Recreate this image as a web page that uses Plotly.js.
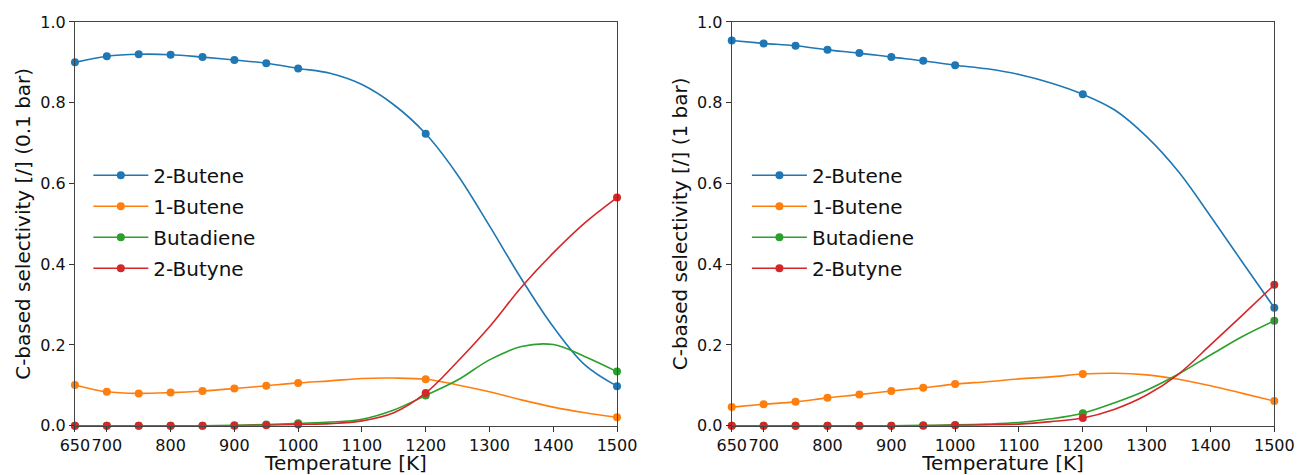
<!DOCTYPE html>
<html>
<head>
<meta charset="utf-8">
<script src="https://cdn.plot.ly/plotly-3.0.1.min.js"></script>
<style>html,body{margin:0;padding:0;background:#fff}#chart{width:1299px;height:475px}</style>
</head>
<body>
<div id="chart"></div>
<script>
// Temperatures [K]
const tempPoints = [650,700,750,800,850,900,950,1000,1200,1500];
const tempCurve  = [650,700,750,800,850,900,950,1000,1050,1100,1150,1200,1250,1300,1350,1400,1450,1500];
const xTickVals  = [650,700,800,900,1000,1100,1200,1300,1400,1500];
const yTickVals  = [0,0.2,0.4,0.6,0.8,1.0];
const seriesNames = ['2-Butene','1-Butene','Butadiene','2-Butyne'];
const seriesColors = ['#1f77b4','#ff7f0e','#2ca02c','#d62728'];

// 0.1 bar — marked points
const butene2_p01_pts   = [0.900,0.915,0.920,0.919,0.913,0.906,0.898,0.885,0.723,0.098];
const butene1_p01_pts   = [0.101,0.084,0.080,0.082,0.086,0.092,0.099,0.106,0.115,0.021];
const butadiene_p01_pts = [0.000,0.000,0.000,0.000,0.000,0.001,0.003,0.006,0.075,0.134];
const butyne2_p01_pts   = [0.000,0.000,0.000,0.000,0.000,0.000,0.001,0.003,0.081,0.565];
// 0.1 bar — smooth curve
const butene2_p01_curve   = [0.900,0.915,0.920,0.919,0.913,0.906,0.898,0.885,0.873,0.845,0.795,0.723,0.621,0.495,0.364,0.245,0.150,0.098];
const butene1_p01_curve   = [0.101,0.084,0.080,0.082,0.086,0.092,0.099,0.106,0.111,0.117,0.118,0.115,0.101,0.084,0.064,0.046,0.032,0.021];
const butadiene_p01_curve = [0.000,0.000,0.000,0.000,0.000,0.001,0.003,0.006,0.009,0.016,0.039,0.075,0.113,0.163,0.196,0.201,0.171,0.134];
const butyne2_p01_curve   = [0.000,0.000,0.000,0.000,0.000,0.000,0.001,0.003,0.005,0.012,0.032,0.081,0.159,0.245,0.343,0.428,0.503,0.565];

// 1 bar — marked points
const butene2_p1_pts   = [0.954,0.947,0.941,0.931,0.923,0.913,0.904,0.893,0.821,0.292];
const butene1_p1_pts   = [0.046,0.053,0.059,0.069,0.077,0.086,0.094,0.103,0.128,0.061];
const butadiene_p1_pts = [0.000,0.000,0.000,0.000,0.000,0.000,0.001,0.002,0.031,0.260];
const butyne2_p1_pts   = [0.000,0.000,0.000,0.000,0.000,0.000,0.000,0.001,0.019,0.349];
// 1 bar — smooth curve
const butene2_p1_curve   = [0.954,0.947,0.941,0.931,0.923,0.913,0.904,0.893,0.884,0.870,0.849,0.821,0.782,0.716,0.629,0.519,0.405,0.292];
const butene1_p1_curve   = [0.046,0.053,0.059,0.069,0.077,0.086,0.094,0.103,0.109,0.116,0.121,0.128,0.130,0.126,0.115,0.099,0.080,0.061];
const butadiene_p1_curve = [0.000,0.000,0.000,0.000,0.000,0.000,0.001,0.002,0.004,0.008,0.017,0.031,0.057,0.088,0.128,0.175,0.221,0.260];
const butyne2_p1_curve   = [0.000,0.000,0.000,0.000,0.000,0.000,0.000,0.001,0.002,0.004,0.010,0.019,0.041,0.076,0.128,0.200,0.274,0.349];

const panels = [
  {xa:'x', ya:'y', legend:'legend',
   pts:[butene2_p01_pts,butene1_p01_pts,butadiene_p01_pts,butyne2_p01_pts],
   curves:[butene2_p01_curve,butene1_p01_curve,butadiene_p01_curve,butyne2_p01_curve]},
  {xa:'x2', ya:'y2', legend:'legend2',
   pts:[butene2_p1_pts,butene1_p1_pts,butadiene_p1_pts,butyne2_p1_pts],
   curves:[butene2_p1_curve,butene1_p1_curve,butadiene_p1_curve,butyne2_p1_curve]}
];

const FONT = 'DejaVu Sans, sans-serif';
const traces = [];
panels.forEach(p => {
  seriesNames.forEach((name, i) => {
    traces.push({x: tempCurve, y: p.curves[i], xaxis: p.xa, yaxis: p.ya, mode: 'lines',
      line: {color: seriesColors[i], width: 1.6, shape: 'spline', smoothing: 1},
      showlegend: false, cliponaxis: false, hoverinfo: 'skip'});
    traces.push({x: tempPoints, y: p.pts[i], xaxis: p.xa, yaxis: p.ya, mode: 'markers',
      marker: {color: seriesColors[i], size: 8}, showlegend: false, cliponaxis: false});
  });
  seriesNames.forEach((name, i) => {
    traces.push({x: [null], y: [null], xaxis: p.xa, yaxis: p.ya, mode: 'lines+markers', name: name,
      legend: p.legend, legendgroup: p.legend + name,
      line: {color: seriesColors[i], width: 1.6}, marker: {color: seriesColors[i], size: 8}});
  });
});

function xAxis(domain, anchor) {
  return {domain: domain, anchor: anchor, range: [650,1500], tickvals: xTickVals,
    tickangle: 0,
    ticks: 'outside', ticklen: 5, tickwidth: 1, tickcolor: '#333',
    showline: true, mirror: true, linecolor: '#444', linewidth: 1,
    showgrid: false, zeroline: false,
    tickfont: {family: FONT, size: 16, color: '#111'},
    title: {text: 'Temperature [K]', font: {family: FONT, size: 20, color: '#111'}, standoff: 5}};
}
function yAxis(domain, anchor, label) {
  return {domain: domain, anchor: anchor, range: [0,1], tickvals: yTickVals, tickformat: '.1f',
    ticks: 'outside', ticklen: 5, tickwidth: 1, tickcolor: '#333',
    showline: true, mirror: true, linecolor: '#444', linewidth: 1,
    showgrid: false, zeroline: false,
    tickfont: {family: FONT, size: 16, color: '#111'},
    title: {text: label, font: {family: FONT, size: 20, color: '#111'}, standoff: 4}};
}
function legendCfg(x) {
  return {x: x, y: 0.672, xanchor: 'left', yanchor: 'top', bgcolor: 'rgba(0,0,0,0)',
    borderwidth: 0, font: {family: FONT, size: 20, color: '#111'},
    traceorder: 'grouped', tracegroupgap: 2, itemwidth: 55};
}

const yDom = [0.1038, 0.9537];
const layout = {
  width: 1299, height: 475,
  margin: {l: 0, r: 0, t: 0, b: 0},
  paper_bgcolor: '#fff', plot_bgcolor: '#fff',
  font: {family: FONT, color: '#111'},
  xaxis: xAxis([0.0577, 0.4750], 'y'),
  yaxis: yAxis(yDom, 'x', 'C-based selectivity [/] (0.1 bar)'),
  xaxis2: xAxis([0.5633, 0.9810], 'y2'),
  yaxis2: yAxis(yDom, 'x2', 'C-based selectivity [/] (1 bar)'),
  legend: legendCfg(0.068),
  legend2: legendCfg(0.575),
  showlegend: true
};

Plotly.newPlot('chart', traces, layout, {staticPlot: true, displayModeBar: false});
</script>
</body>
</html>
